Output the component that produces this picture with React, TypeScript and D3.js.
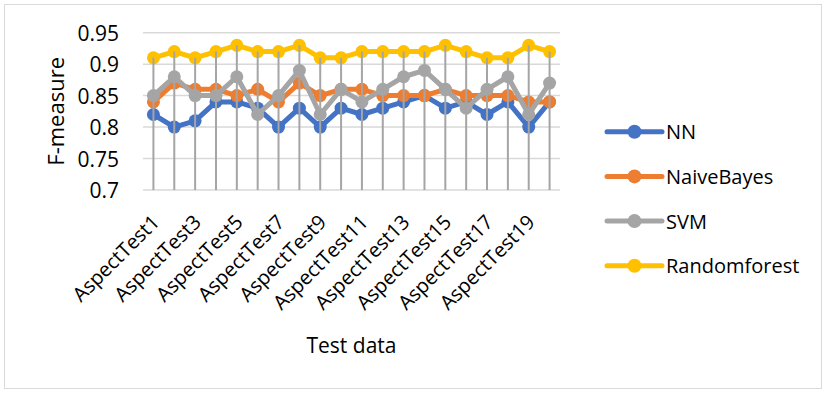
import React, { useEffect, useRef } from "react";
import * as d3 from "d3";

const categories = [
  "AspectTest1", "AspectTest2", "AspectTest3", "AspectTest4", "AspectTest5",
  "AspectTest6", "AspectTest7", "AspectTest8", "AspectTest9", "AspectTest10",
  "AspectTest11", "AspectTest12", "AspectTest13", "AspectTest14", "AspectTest15",
  "AspectTest16", "AspectTest17", "AspectTest18", "AspectTest19", "AspectTest20",
];

const nnValues = [0.82, 0.80, 0.81, 0.84, 0.84, 0.83, 0.80, 0.83, 0.80, 0.83, 0.82, 0.83, 0.84, 0.85, 0.83, 0.84, 0.82, 0.84, 0.80, 0.84];
const naiveBayesValues = [0.84, 0.87, 0.86, 0.86, 0.85, 0.86, 0.84, 0.87, 0.85, 0.86, 0.86, 0.85, 0.85, 0.85, 0.86, 0.85, 0.85, 0.85, 0.84, 0.84];
const svmValues = [0.85, 0.88, 0.85, 0.85, 0.88, 0.82, 0.85, 0.89, 0.82, 0.86, 0.84, 0.86, 0.88, 0.89, 0.86, 0.83, 0.86, 0.88, 0.82, 0.87];
const randomForestValues = [0.91, 0.92, 0.91, 0.92, 0.93, 0.92, 0.92, 0.93, 0.91, 0.91, 0.92, 0.92, 0.92, 0.92, 0.93, 0.92, 0.91, 0.91, 0.93, 0.92];

const seriesNames = ["NN", "NaiveBayes", "SVM", "Randomforest"];
const seriesColors = ["#4472c4", "#ed7d31", "#a5a5a5", "#ffc000"];
const yTicks = [0.7, 0.75, 0.8, 0.85, 0.9, 0.95];

const WIDTH = 826;
const HEIGHT = 393;
const FONT = "'Open Sans', 'Noto Sans', sans-serif";

export default function App() {
  const ref = useRef<SVGSVGElement | null>(null);

  useEffect(() => {
    const svg = d3.select(ref.current);
    svg.selectAll("*").remove();

    const plot = { left: 143, right: 560, top: 32.7, bottom: 190 };
    const seriesData = [nnValues, naiveBayesValues, svmValues, randomForestValues];

    const x = d3.scaleBand<string>().domain(categories).range([plot.left, plot.right]);
    const cx = (c: string) => (x(c) as number) + x.bandwidth() / 2;
    const y = d3.scaleLinear().domain([0.7, 0.95]).range([plot.bottom, plot.top]);

    // chart border
    svg.append("rect")
      .attr("x", 4.5).attr("y", 4.5)
      .attr("width", 817).attr("height", 384)
      .attr("fill", "#fff").attr("stroke", "#d9d9d9").attr("stroke-width", 1);

    // horizontal gridlines
    svg.append("g").selectAll("line").data(yTicks).join("line")
      .attr("x1", plot.left).attr("x2", plot.right)
      .attr("y1", (d) => y(d)).attr("y2", (d) => y(d))
      .attr("stroke", "#d9d9d9").attr("stroke-width", 1.5);

    // y tick labels
    svg.append("g").selectAll("text").data(yTicks).join("text")
      .attr("x", 119).attr("y", (d) => y(d))
      .attr("text-anchor", "end").attr("dominant-baseline", "central")
      .attr("font-family", FONT).attr("font-size", 21).attr("fill", "#000")
      .text((d) => String(d));

    // y axis title
    svg.append("text")
      .attr("transform", `translate(55,${(plot.top + plot.bottom) / 2}) rotate(-90)`)
      .attr("text-anchor", "middle").attr("dominant-baseline", "central")
      .attr("font-family", FONT).attr("font-size", 22).attr("fill", "#000")
      .text("F-measure");

    // series lines and markers
    const line = d3.line<number>()
      .x((_, i) => cx(categories[i]))
      .y((d) => y(d));

    seriesData.forEach((vals, si) => {
      const g = svg.append("g");
      g.append("path")
        .attr("d", line(vals) as string)
        .attr("fill", "none")
        .attr("stroke", seriesColors[si])
        .attr("stroke-width", 5)
        .attr("stroke-linejoin", "round");
      g.selectAll("circle").data(vals).join("circle")
        .attr("cx", (_, i) => cx(categories[i]))
        .attr("cy", (d) => y(d))
        .attr("r", 6.5)
        .attr("fill", seriesColors[si]);
    });

    // drop lines from the highest point of each category to the axis
    svg.append("g").selectAll("line").data(categories).join("line")
      .attr("x1", (c) => cx(c)).attr("x2", (c) => cx(c))
      .attr("y1", (_, i) => y(Math.max(...seriesData.map((s) => s[i]))))
      .attr("y2", plot.bottom)
      .attr("stroke", "#a5a5a5").attr("stroke-width", 2);

    // category labels (every other one)
    svg.append("g").selectAll("text")
      .data(categories.filter((_, i) => i % 2 === 0))
      .join("text")
      .attr("transform", (c) => `translate(${cx(c) + 2},${plot.bottom + 28}) rotate(-45)`)
      .attr("text-anchor", "end").attr("dominant-baseline", "central")
      .attr("font-family", FONT).attr("font-size", 20).attr("fill", "#000")
      .text((c) => c);

    // x axis title
    svg.append("text")
      .attr("x", (plot.left + plot.right) / 2).attr("y", 353)
      .attr("text-anchor", "middle")
      .attr("font-family", FONT).attr("font-size", 21).attr("fill", "#000")
      .text("Test data");

    // legend
    const legend = svg.append("g");
    seriesNames.forEach((name, i) => {
      const ly = 131.7 + i * 44.7;
      legend.append("line")
        .attr("x1", 607).attr("x2", 662).attr("y1", ly).attr("y2", ly)
        .attr("stroke", seriesColors[i]).attr("stroke-width", 5).attr("stroke-linecap", "round");
      legend.append("circle")
        .attr("cx", 634.5).attr("cy", ly).attr("r", 7).attr("fill", seriesColors[i]);
      legend.append("text")
        .attr("x", 666).attr("y", ly)
        .attr("dominant-baseline", "central")
        .attr("font-family", FONT).attr("font-size", 20).attr("fill", "#000")
        .text(name);
    });
  }, []);

  return (
    <svg
      ref={ref}
      width={WIDTH}
      height={HEIGHT}
      style={{ position: "absolute", left: 0, top: 0, background: "#fff" }}
    />
  );
}
